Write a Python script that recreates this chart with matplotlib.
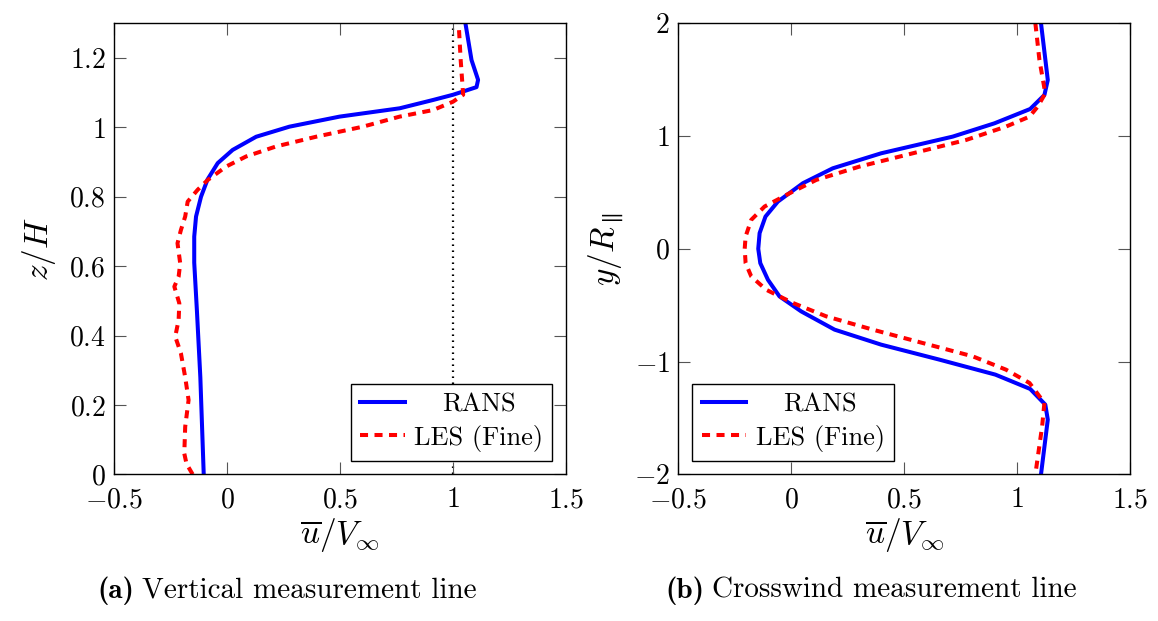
import matplotlib
matplotlib.use("Agg")
import matplotlib.pyplot as plt
from matplotlib.transforms import Affine2D

plt.rcParams['font.family'] = 'serif'
plt.rcParams['font.serif'] = ['cmr10']
plt.rcParams['mathtext.fontset'] = 'cm'
plt.rcParams['axes.formatter.use_mathtext'] = True
plt.rcParams['axes.unicode_minus'] = False

# ---------------- data ----------------
# (a) vertical measurement line
rans_v_z = [0.0, 0.28, 0.47, 0.61, 0.685, 0.743, 0.80, 0.85, 0.897, 0.935, 0.973,
            1.002, 1.031, 1.055, 1.079, 1.094, 1.116, 1.137, 1.194, 1.30]
rans_v_u = [-0.103, -0.118, -0.133, -0.145, -0.145, -0.137, -0.115, -0.086, -0.041,
            0.025, 0.129, 0.276, 0.498, 0.764, 0.912, 1.0, 1.104, 1.111, 1.082, 1.055]

les_v_z = [0.0, 0.03, 0.06, 0.137, 0.214, 0.28, 0.349, 0.397, 0.445, 0.493, 0.541,
           0.57, 0.608, 0.666, 0.704, 0.743, 0.786, 0.82, 0.848, 0.887, 0.916,
           0.945, 0.973, 1.002, 1.031, 1.05, 1.074, 1.094, 1.194, 1.30]
les_v_u = [-0.152, -0.179, -0.189, -0.185, -0.170, -0.185, -0.204, -0.229, -0.214,
           -0.211, -0.233, -0.214, -0.207, -0.219, -0.204, -0.185, -0.174, -0.130,
           -0.086, -0.004, 0.084, 0.217, 0.394, 0.601, 0.764, 0.912, 1.0, 1.045,
           1.034, 1.025]

# (b) crosswind measurement line
rans_c_y = [2.0, 1.497, 1.364, 1.24, 1.113, 0.995, 0.847, 0.714, 0.582, 0.419, 0.286,
            0.139, 0.0, -0.127, -0.275, -0.422, -0.555, -0.717, -0.85, -0.983,
            -1.116, -1.243, -1.382, -1.515, -2.0]
rans_c_u = [1.106, 1.136, 1.121, 1.058, 0.90, 0.715, 0.398, 0.184, 0.052, -0.059,
            -0.114, -0.140, -0.146, -0.137, -0.103, -0.052, 0.044, 0.192, 0.398,
            0.656, 0.904, 1.058, 1.125, 1.136, 1.106]

les_c_y = [2.0, 1.674, 1.379, 1.26, 1.172, 1.084, 0.965, 0.847, 0.729, 0.611, 0.493,
           0.375, 0.257, 0.109, 0.0, -0.127, -0.245, -0.363, -0.48, -0.599, -0.717,
           -0.836, -0.954, -1.072, -1.19, -1.367, -1.573, -2.0]
les_c_u = [1.081, 1.099, 1.125, 1.091, 1.055, 0.951, 0.774, 0.538, 0.302, 0.111,
           -0.007, -0.118, -0.177, -0.202, -0.206, -0.202, -0.177, -0.111, 0.007,
           0.155, 0.361, 0.583, 0.804, 0.951, 1.055, 1.121, 1.111, 1.081]

x_ticks = [-0.5, 0, 0.5, 1, 1.5]
x_ticklabels = [r'$-0.5$', r'$0$', r'$0.5$', r'$1$', r'$1.5$']
ya_ticks = [0, 0.2, 0.4, 0.6, 0.8, 1.0, 1.2]
ya_ticklabels = [r'$0$', r'$0.2$', r'$0.4$', r'$0.6$', r'$0.8$', r'$1$', r'$1.2$']
yb_ticks = [-2, -1, 0, 1, 2]
yb_ticklabels = [r'$-2$', r'$-1$', r'$0$', r'$1$', r'$2$']

series_labels = ['RANS', 'LES (Fine)']
captions = [('(a)', 'Vertical measurement line'),
            ('(b)', 'Crosswind measurement line')]

# ---------------- figure ----------------
W, H = 1158, 621
fig = plt.figure(figsize=(W / 100, H / 100), dpi=100)

def px_axes(l, t, r, b):
    return fig.add_axes([l / W, 1 - b / H, (r - l) / W, (b - t) / H])

axA = px_axes(114, 23.3, 566, 474.3)
axB = px_axes(678.3, 23.3, 1130, 474.3)

lw = 2.9
dash = (0, (2.0, 1.6))

def style(ax, yt, ytl):
    ax.set_xlim(-0.5, 1.5)
    ax.set_xticks(x_ticks)
    ax.set_xticklabels(x_ticklabels)
    ax.set_yticks(yt)
    ax.set_yticklabels(ytl)
    ax.tick_params(direction='in', length=8.4, width=0.8, color='#555555',
                   top=True, right=True, labelsize=20, pad=6)
    ax.tick_params(axis='x', pad=9)
    for s in ax.spines.values():
        s.set_linewidth(1.0)
    ax.set_xlabel(r'$\overline{u}/V_\infty$', fontsize=24, labelpad=2)

# panel a
axA.plot(rans_v_u, rans_v_z, color='blue', lw=lw, label=series_labels[0],
         solid_joinstyle='round')
axA.plot(les_v_u, les_v_z, color='red', lw=lw, linestyle=dash, label=series_labels[1])
axA.axvline(1.0, color='black', lw=1.6, linestyle=(0, (0.7, 2.0)), zorder=1)
axA.set_ylim(0, 1.3)
style(axA, ya_ticks, ya_ticklabels)
axA.set_ylabel(r'$z/H$', fontsize=24, labelpad=8)

# panel b
axB.plot(rans_c_u, rans_c_y, color='blue', lw=lw, label=series_labels[0],
         solid_joinstyle='round')
axB.plot(les_c_u, les_c_y, color='red', lw=lw, linestyle=dash, label=series_labels[1])
axB.set_ylim(-2, 2)
style(axB, yb_ticks, yb_ticklabels)
axB.set_ylabel(r'$y/R_{\parallel}$', fontsize=24, labelpad=6)

legs = []
for ax, loc, anchor in [(axA, 'lower right', (0.970, 0.030)),
                        (axB, 'lower left', (0.031, 0.030))]:
    leg = ax.legend(loc=loc, bbox_to_anchor=anchor, borderaxespad=0,
                    fontsize=19, fancybox=False, framealpha=1, edgecolor='black',
                    handlelength=1.7, handletextpad=0.35, labelspacing=0.3,
                    borderpad=0.35)
    leg.get_frame().set_linewidth(1.0)
    leg.set_zorder(5)
    legs.append(leg)

# captions: bold label + regular text, centred as a group
cap_texts = []
for (cx, (bold, txt)) in zip([287, 871], captions):
    tb = fig.text(0, H - 598, bold, fontsize=21, family='cmb10', ha='left',
                  va='baseline', transform=None)
    tr = fig.text(0, H - 598, txt, fontsize=21, ha='left', va='baseline',
                  transform=None)
    cap_texts.append((cx, tb, tr))

fig.canvas.draw()
r = fig.canvas.get_renderer()

# center the shorter legend entry like pgfplots
for leg in legs:
    t0, t1 = leg.get_texts()
    w0 = t0.get_window_extent(r).width
    w1 = t1.get_window_extent(r).width
    t0.set_transform(t0.get_transform() + Affine2D().translate((w1 - w0) / 2, 0))

gap = 8
for cx, tb, tr in cap_texts:
    wb = tb.get_window_extent(r).width
    wr = tr.get_window_extent(r).width
    total = wb + gap + wr
    x0 = cx - total / 2
    tb.set_x(x0)
    tr.set_x(x0 + wb + gap)

fig.savefig('out.png', dpi=100)
